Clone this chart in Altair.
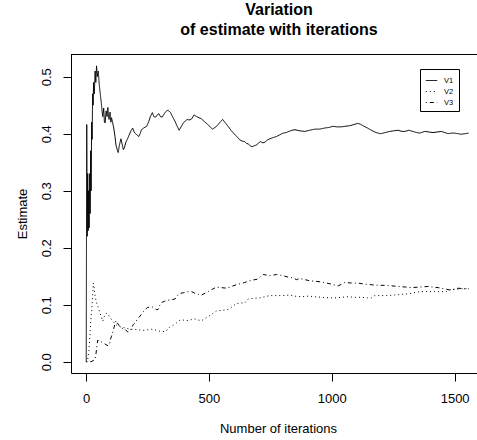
import altair as alt
import pandas as pd

# ---- data (running estimates vs iteration) ----
iter_v1 = [1, 3, 5, 7, 9, 11, 13, 15, 17, 19, 21, 23, 25, 27, 29, 31, 34, 37, 40, 43, 46, 50, 54, 58, 62, 65,
           68, 72, 75, 78, 82, 86, 89, 92, 94, 98, 101, 104, 108, 113, 118, 122, 127, 131, 136, 142, 148, 152,
           156, 162, 168, 176, 183, 190, 195, 199, 207, 215, 220, 226, 235, 247, 256, 262, 270, 276, 283, 290,
           297, 303, 310, 320, 330, 337, 344, 352, 362, 370, 379, 387, 396, 404, 412, 420, 430, 440, 450, 460,
           470, 480, 493, 505, 515, 525, 534, 545, 556, 567, 578, 590, 602, 614, 626, 636, 646, 653, 660, 668,
           676, 685, 694, 702, 710, 719, 728, 738, 748, 760, 775, 788, 802, 815, 826, 838, 850, 870, 890, 910,
           931, 950, 972, 990, 1005, 1020, 1039, 1055, 1073, 1090, 1104, 1115, 1127, 1145, 1161, 1180, 1199,
           1218, 1236, 1252, 1270, 1285, 1297, 1314, 1330, 1345, 1358, 1378, 1395, 1412, 1430, 1446, 1460,
           1473, 1487, 1500, 1514, 1527, 1542, 1557]
v1 = [0.0, 0.416, 0.22, 0.33, 0.23, 0.30, 0.235, 0.33, 0.26, 0.37, 0.30, 0.42, 0.39, 0.47, 0.45, 0.49, 0.47,
      0.51, 0.49, 0.519, 0.50, 0.51, 0.486, 0.47, 0.455, 0.442, 0.43, 0.445, 0.42, 0.419, 0.44, 0.43, 0.446,
      0.43, 0.425, 0.438, 0.42, 0.428, 0.42, 0.41, 0.395, 0.38, 0.372, 0.367, 0.38, 0.391, 0.38, 0.372, 0.375,
      0.385, 0.39, 0.398, 0.405, 0.41, 0.404, 0.401, 0.398, 0.395, 0.40, 0.407, 0.41, 0.413, 0.422, 0.43,
      0.437, 0.43, 0.429, 0.433, 0.435, 0.43, 0.429, 0.436, 0.441, 0.44, 0.437, 0.43, 0.422, 0.414, 0.406,
      0.412, 0.419, 0.422, 0.425, 0.424, 0.426, 0.433, 0.43, 0.428, 0.426, 0.422, 0.417, 0.412, 0.408, 0.411,
      0.414, 0.42, 0.425, 0.419, 0.413, 0.406, 0.40, 0.395, 0.389, 0.387, 0.386, 0.383, 0.382, 0.379, 0.377,
      0.379, 0.38, 0.384, 0.386, 0.384, 0.385, 0.389, 0.391, 0.393, 0.395, 0.398, 0.401, 0.402, 0.404, 0.406,
      0.407, 0.405, 0.404, 0.406, 0.408, 0.408, 0.41, 0.411, 0.413, 0.412, 0.412, 0.413, 0.414, 0.416, 0.418,
      0.417, 0.414, 0.41, 0.406, 0.402, 0.40, 0.402, 0.404, 0.405, 0.406, 0.404, 0.404, 0.406, 0.404, 0.402,
      0.401, 0.404, 0.403, 0.402, 0.403, 0.404, 0.402, 0.40, 0.401, 0.401, 0.40, 0.399, 0.40, 0.401]

iter_v2 = [1, 3, 6, 9, 12, 15, 18, 20, 23, 27, 30, 33, 37, 43, 50, 57, 63, 68, 73, 78, 84, 88, 94, 99, 107,
           115, 125, 135, 150, 163, 179, 190, 210, 233, 250, 267, 280, 294, 308, 321, 332, 341, 355, 368, 382,
           400, 416, 430, 443, 458, 470, 485, 504, 518, 531, 550, 572, 585, 599, 612, 630, 646, 660, 680, 707,
           728, 748, 775, 802, 829, 850, 875, 904, 930, 958, 990, 1019, 1040, 1066, 1095, 1121, 1145, 1161,
           1175, 1200, 1229, 1255, 1283, 1305, 1324, 1345, 1365, 1390, 1419, 1445, 1466, 1487, 1505, 1527, 1557]
v2 = [0.0, 0.0, 0.0, 0.01, 0.02, 0.04, 0.06, 0.074, 0.09, 0.115, 0.138, 0.13, 0.115, 0.103, 0.095, 0.085,
      0.078, 0.071, 0.078, 0.082, 0.085, 0.085, 0.08, 0.077, 0.072, 0.068, 0.064, 0.062, 0.06, 0.059, 0.057,
      0.057, 0.056, 0.055, 0.056, 0.057, 0.056, 0.054, 0.053, 0.053, 0.056, 0.061, 0.064, 0.068, 0.073, 0.073,
      0.072, 0.074, 0.075, 0.073, 0.072, 0.076, 0.081, 0.085, 0.089, 0.09, 0.091, 0.093, 0.098, 0.102, 0.103,
      0.103, 0.11, 0.111, 0.112, 0.114, 0.116, 0.116, 0.116, 0.117, 0.115, 0.114, 0.115, 0.114, 0.113, 0.112,
      0.112, 0.113, 0.114, 0.113, 0.113, 0.112, 0.112, 0.116, 0.116, 0.116, 0.117, 0.118, 0.119, 0.12, 0.122,
      0.123, 0.123, 0.123, 0.123, 0.123, 0.127, 0.127, 0.128, 0.128]

iter_v3 = [1, 10, 20, 30, 36, 41, 45, 48, 55, 61, 70, 81, 90, 95, 100, 104, 111, 117, 122, 128, 135, 142,
           150, 159, 170, 176, 185, 192, 199, 210, 220, 230, 240, 250, 260, 270, 280, 287, 294, 300, 308, 320,
           335, 350, 362, 372, 382, 398, 416, 430, 443, 458, 470, 484, 497, 514, 531, 550, 572, 592, 612, 630,
           646, 660, 674, 688, 700, 710, 721, 735, 748, 762, 775, 790, 809, 826, 843, 856, 870, 890, 911, 935,
           958, 980, 999, 1015, 1026, 1040, 1053, 1080, 1107, 1135, 1161, 1190, 1215, 1245, 1270, 1300, 1324,
           1360, 1392, 1410, 1433, 1455, 1480, 1500, 1514, 1535, 1557]
v3 = [0.0, 0.0, 0.0, 0.002, 0.003, 0.015, 0.03, 0.038, 0.036, 0.035, 0.033, 0.03, 0.028, 0.03, 0.04, 0.045,
      0.055, 0.065, 0.072, 0.068, 0.063, 0.06, 0.058, 0.057, 0.052, 0.053, 0.058, 0.065, 0.068, 0.075, 0.08,
      0.086, 0.091, 0.095, 0.096, 0.096, 0.094, 0.091, 0.092, 0.099, 0.104, 0.106, 0.108, 0.109, 0.11, 0.116,
      0.12, 0.121, 0.123, 0.123, 0.12, 0.118, 0.117, 0.12, 0.123, 0.127, 0.131, 0.13, 0.129, 0.132, 0.135,
      0.137, 0.139, 0.141, 0.143, 0.144, 0.145, 0.149, 0.153, 0.152, 0.151, 0.152, 0.153, 0.152, 0.15, 0.148,
      0.147, 0.144, 0.146, 0.144, 0.142, 0.141, 0.14, 0.138, 0.136, 0.134, 0.133, 0.136, 0.139, 0.138, 0.138,
      0.136, 0.135, 0.134, 0.134, 0.133, 0.132, 0.131, 0.13, 0.131, 0.132, 0.131, 0.13, 0.128, 0.126, 0.127,
      0.129, 0.128, 0.128]

series_names = ["V1", "V2", "V3"]
x_ticks = [0, 500, 1000, 1500]
y_ticks = [0.0, 0.1, 0.2, 0.3, 0.4, 0.5]

frames = []
for name, xs, ys in [("V1", iter_v1, v1), ("V2", iter_v2, v2), ("V3", iter_v3, v3)]:
    frames.append(pd.DataFrame({"iteration": xs, "estimate": ys, "series": name}))
df = pd.concat(frames, ignore_index=True)

FONT = "Liberation Sans"
X_DOMAIN = [-61, 1591]
Y_DOMAIN = [-0.0198, 0.5398]

x_scale = alt.Scale(domain=X_DOMAIN, nice=False, zero=False)
y_scale = alt.Scale(domain=Y_DOMAIN, nice=False, zero=False)

lines = alt.Chart(df).mark_line(strokeWidth=1, color="black", clip=True).encode(
    x=alt.X("iteration:Q", scale=x_scale,
            axis=alt.Axis(values=x_ticks, format="d", title="Number of iterations", grid=False,
                          domain=True, domainColor="black", domainWidth=1,
                          tickColor="black", tickSize=8, labelPadding=11,
                          labelFontSize=13, labelFont=FONT, labelColor="black",
                          titleFontSize=13, titleFont=FONT, titleColor="black",
                          titleFontWeight="normal", titleX=207, titleY=55,
                          titleBaseline="middle", labelFlush=False)),
    y=alt.Y("estimate:Q", scale=y_scale,
            axis=alt.Axis(values=y_ticks, format=".1f", title="Estimate", grid=False,
                          domain=True, domainColor="black", domainWidth=1,
                          tickColor="black", tickSize=8, labelPadding=10,
                          labelAngle=-90, labelAlign="center", labelBaseline="bottom",
                          labelFontSize=13, labelFont=FONT, labelColor="black",
                          titleFontSize=13, titleFont=FONT, titleColor="black",
                          titleFontWeight="normal", titleAngle=-90, titleX=-49,
                          titleY=159.5, titleAlign="center", titleBaseline="middle",
                          labelFlush=False)),
    strokeDash=alt.StrokeDash("series:N",
                              scale=alt.Scale(domain=series_names,
                                              range=[[1, 0], [1, 3], [1, 3, 4, 3]]),
                              legend=alt.Legend(title=None, orient="none", legendX=349, legendY=15,
                                                strokeColor="black", fillColor="white", padding=5,
                                                symbolType="stroke", symbolStrokeColor="black",
                                                symbolStrokeWidth=1, symbolSize=130,
                                                labelFontSize=7.5, labelFont=FONT, labelColor="black",
                                                labelOffset=6, rowPadding=1, cornerRadius=0)),
)

# top edge of the plotting box (left and bottom edges are the axis domains)
top_edge = alt.Chart(pd.DataFrame({"y": [Y_DOMAIN[1]]})).mark_rule(
    color="black", strokeWidth=1, yOffset=0.5).encode(y=alt.Y("y:Q", scale=y_scale))

chart = alt.layer(lines, top_edge).properties(
    width=406, height=319,
    padding={"left": 71, "top": 54, "right": 0, "bottom": 67},
    autosize=alt.AutoSizeParams(type="none"),
    background="white",
    title=alt.Title(["Variation", "of estimate with iterations"], fontSize=16, font=FONT,
                    fontWeight="bold", color="black", anchor="middle", lineHeight=20,
                    offset=13, dx=5, dy=-3),
).configure_view(stroke=None)

chart.save("out.html", embed_options={"renderer": "svg", "actions": False})
